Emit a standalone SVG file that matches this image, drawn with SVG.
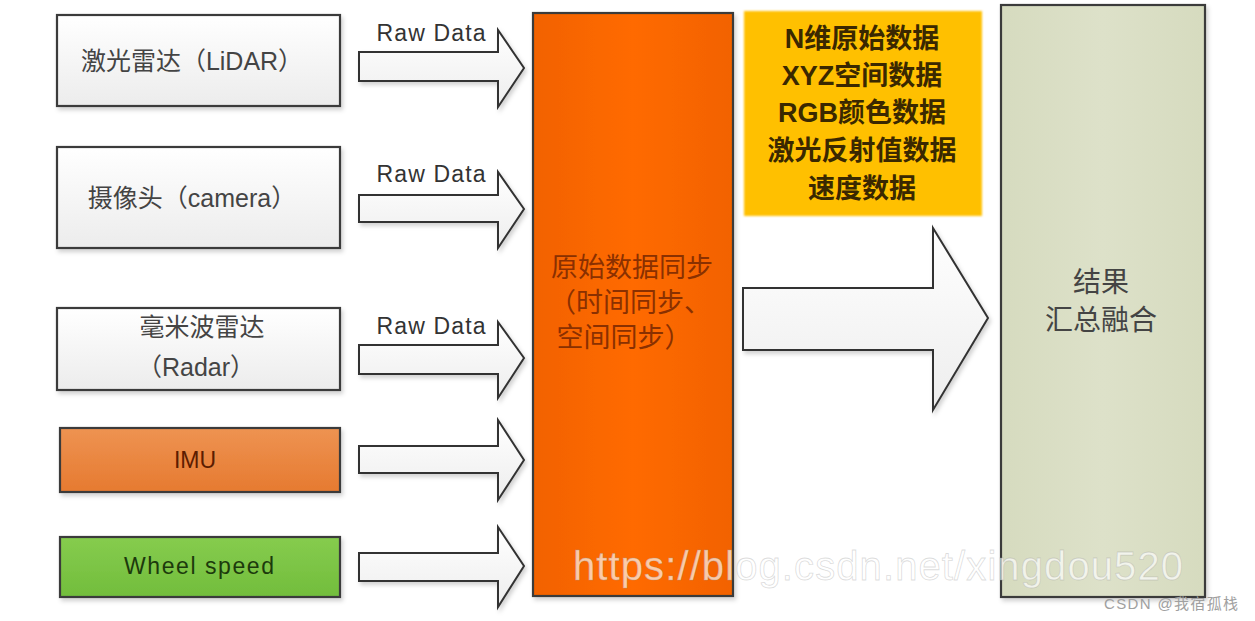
<svg xmlns="http://www.w3.org/2000/svg" width="1255" height="621" viewBox="0 0 1255 621">
<defs>
<linearGradient id="gWhite" x1="0" y1="0" x2="0" y2="1"><stop offset="0" stop-color="#ffffff"/><stop offset="1" stop-color="#ececec"/></linearGradient>
<linearGradient id="gArrow" x1="0" y1="0" x2="0" y2="1"><stop offset="0" stop-color="#ffffff"/><stop offset="1" stop-color="#ededed"/></linearGradient>
<linearGradient id="gImu" x1="0" y1="0" x2="0" y2="1"><stop offset="0" stop-color="#ee9352"/><stop offset="1" stop-color="#e67a30"/></linearGradient>
<linearGradient id="gWheel" x1="0" y1="0" x2="0" y2="1"><stop offset="0" stop-color="#86cc4e"/><stop offset="1" stop-color="#72bd3c"/></linearGradient>
<linearGradient id="gSync" x1="0" y1="0" x2="1" y2="0"><stop offset="0" stop-color="#f26200"/><stop offset="0.5" stop-color="#ff6a00"/><stop offset="1" stop-color="#f26200"/></linearGradient>
<linearGradient id="gResult" x1="0" y1="0" x2="1" y2="0"><stop offset="0" stop-color="#d6dbbf"/><stop offset="0.5" stop-color="#dde1c9"/><stop offset="1" stop-color="#d6dbbf"/></linearGradient>
<filter id="sh" x="-10%" y="-10%" width="130%" height="130%"><feDropShadow dx="2" dy="3" stdDeviation="2" flood-color="#000" flood-opacity="0.18"/></filter>
<filter id="soft" x="-5%" y="-5%" width="110%" height="110%"><feGaussianBlur stdDeviation="1.2"/></filter>
</defs>
<style>
.box{stroke:#3a3a3a;stroke-width:2.2}
.arrow{fill:url(#gArrow);stroke:#333;stroke-width:2;stroke-linejoin:miter}
.t{font-family:"Liberation Sans","Noto Sans CJK SC",sans-serif;text-anchor:middle}
.lbl{font-size:25px;fill:#444}
.raw{font-size:23px;fill:#333}
.ylw{font-size:27px;font-weight:bold;fill:#3a2800}
.syn{font-size:27px;fill:#8a3000}
.res{font-size:28px;fill:#444}
.wm{font-family:"Liberation Sans","DejaVu Sans",sans-serif;fill:#ffffff;fill-opacity:0.68;stroke:#9a9a9a;stroke-opacity:0.35;stroke-width:0.8}
</style>
<rect width="1255" height="621" fill="#ffffff"/>

<g id="connectors">
<path class="arrow" filter="url(#sh)" d="M359,52 H498 V30 L524,68 L498,107 V81 H359 Z"/>
<path class="arrow" filter="url(#sh)" d="M359,195 H498 V172 L524,209 L498,248 V222 H359 Z"/>
<path class="arrow" filter="url(#sh)" d="M359,345 H498 V322 L524,358 L498,398 V374 H359 Z"/>
<path class="arrow" filter="url(#sh)" d="M359,446 H498 V420 L524,460 L498,500 V473 H359 Z"/>
<path class="arrow" filter="url(#sh)" d="M359,553 H498 V527 L524,566 L498,607 V581 H359 Z"/>
<path class="arrow" filter="url(#sh)" d="M743,288 H933 V228 L988,318 L933,410 V350 H743 Z"/>
<text class="t raw" x="431" y="41" textLength="109">Raw Data</text>
<text class="t raw" x="431" y="182" textLength="109">Raw Data</text>
<text class="t raw" x="431" y="334" textLength="109">Raw Data</text>
</g>

<g id="lidar">
<rect class="box" x="57" y="15" width="283" height="91" fill="url(#gWhite)" filter="url(#sh)"/>
<text class="t lbl" x="192" y="70">激光雷达（LiDAR）</text>
</g>
<g id="camera">
<rect class="box" x="57" y="147" width="283" height="101" fill="url(#gWhite)" filter="url(#sh)"/>
<text class="t lbl" x="192" y="207">摄像头（camera）</text>
</g>
<g id="radar">
<rect class="box" x="57" y="308" width="283" height="82" fill="url(#gWhite)" filter="url(#sh)"/>
<text class="t lbl" x="202" y="336">毫米波雷达</text>
<text class="t lbl" x="196" y="376">（Radar）</text>
</g>
<g id="imu">
<rect class="box" x="60" y="428" width="280" height="64" fill="url(#gImu)" filter="url(#sh)"/>
<text class="t" x="195" y="468" font-size="23" fill="#5c1c00">IMU</text>
</g>
<g id="wheel">
<rect class="box" x="60" y="537" width="280" height="60" fill="url(#gWheel)" filter="url(#sh)"/>
<text class="t" x="199" y="574" font-size="23" fill="#1c3a0c" textLength="150">Wheel speed</text>
</g>

<g id="sync">
<rect class="box" x="533" y="13" width="200" height="583" fill="url(#gSync)" filter="url(#sh)"/>
<text class="t syn" x="632" y="277">原始数据同步</text>
<text class="t syn" x="630" y="312">（时间同步、</text>
<text class="t syn" x="624" y="347">空间同步）</text>
</g>

<g id="data-types">
<rect x="744" y="11" width="238" height="205" fill="#ffc000" filter="url(#soft)"/>
<text class="t ylw" x="862" y="48">N维原始数据</text>
<text class="t ylw" x="862" y="85">XYZ空间数据</text>
<text class="t ylw" x="862" y="122">RGB颜色数据</text>
<text class="t ylw" x="862" y="160">激光反射值数据</text>
<text class="t ylw" x="862" y="198">速度数据</text>
</g>

<g id="result">
<rect class="box" x="1001" y="5" width="204" height="592" fill="url(#gResult)" filter="url(#sh)"/>
<text class="t res" x="1101" y="292">结果</text>
<text class="t res" x="1101" y="330">汇总融合</text>
</g>

<g id="watermark">
<text class="wm" x="573" y="580" font-size="40" textLength="610">https://blog.csdn.net/xingdou520</text>
<text x="1104" y="609" font-family="Liberation Sans,Noto Sans CJK SC,sans-serif" font-size="15" fill="#a0a0a0" textLength="134">CSDN @我宿孤栈</text>
</g>
</svg>
